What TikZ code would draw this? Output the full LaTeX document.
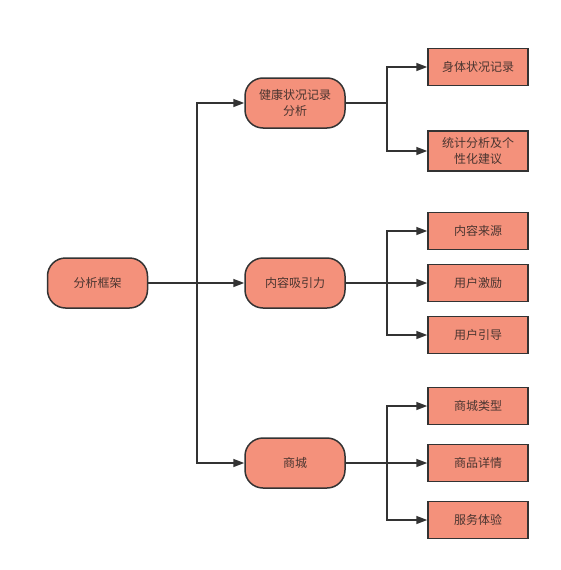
\documentclass[tikz,border=0pt]{standalone}
\usepackage{fontspec}
\setmainfont{Noto Sans CJK SC}
\usetikzlibrary{arrows.meta}
\definecolor{boxfill}{HTML}{F4917B}
\definecolor{boxline}{HTML}{333333}
\definecolor{txt}{HTML}{4A3530}
\tikzset{
  roundbox/.style={draw=boxline, fill=boxfill, line width=1.5pt, rounded corners=18pt,
    minimum width=100pt, minimum height=50pt, align=center, text=txt,
    font=\fontsize{12}{15.5}\selectfont, inner sep=2pt},
  leafbox/.style={draw=boxline, fill=boxfill, line width=1.5pt,
    minimum width=100pt, minimum height=37pt, align=center, text=txt,
    font=\fontsize{12}{15.5}\selectfont, inner sep=2pt},
  conn/.style={draw=boxline, line width=1.5pt},
  arr/.style={conn, -{Triangle[length=11pt,width=8pt]}}
}
\begin{document}
\begin{tikzpicture}[x=1pt,y=-1pt]
\useasboundingbox (0,0) rectangle (561,570);
\node[roundbox] (root) at (97.5,283) {分析框架};
\node[roundbox] (health) at (295,103) {健康状况记录\\分析};
\node[roundbox] (content) at (295,283) {内容吸引力};
\node[roundbox] (mall) at (295,463) {商城};
\node[leafbox] (h1) at (478,67) {身体状况记录};
\node[leafbox, minimum height=40pt] (h2) at (478,151) {统计分析及个\\性化建议};
\node[leafbox] (c1) at (478,231) {内容来源};
\node[leafbox] (c2) at (478,283) {用户激励};
\node[leafbox] (c3) at (478,335) {用户引导};
\node[leafbox] (m1) at (478,406) {商城类型};
\node[leafbox] (m2) at (478,463) {商品详情};
\node[leafbox] (m3) at (478,520) {服务体验};
% root connectors
\coordinate (rj) at (197,283);
\draw[conn] (root.east) -- (rj);
\draw[arr] (rj) |- (health.west);
\draw[arr] (rj) -- (content.west);
\draw[arr] (rj) |- (mall.west);
% health
\coordinate (hj) at (387,103);
\draw[conn] (health.east) -- (hj);
\draw[arr] (hj) |- (h1.west);
\draw[arr] (hj) |- (h2.west);
% content
\coordinate (cj) at (387,283);
\draw[conn] (content.east) -- (cj);
\draw[arr] (cj) |- (c1.west);
\draw[arr] (cj) -- (c2.west);
\draw[arr] (cj) |- (c3.west);
% mall
\coordinate (mj) at (387,463);
\draw[conn] (mall.east) -- (mj);
\draw[arr] (mj) |- (m1.west);
\draw[arr] (mj) -- (m2.west);
\draw[arr] (mj) |- (m3.west);
\end{tikzpicture}
\end{document}
